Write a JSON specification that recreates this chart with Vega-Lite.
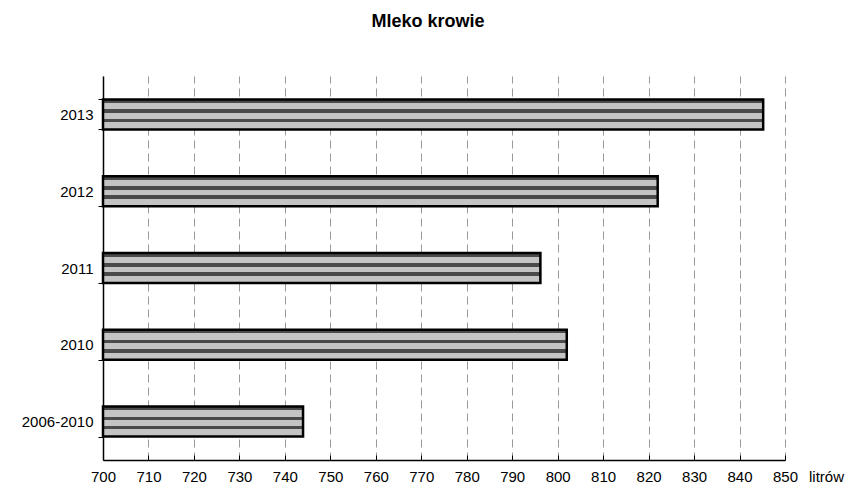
{
  "$schema": "https://vega.github.io/schema/vega-lite/v6.json",
  "width": 682,
  "height": 384,
  "autosize": {"type": "none"},
  "padding": {"left": 103, "top": 76, "right": 69, "bottom": 32},
  "background": "white",
  "title": {
    "text": "Mleko krowie",
    "font": "Liberation Sans",
    "fontSize": 18,
    "fontWeight": "bold",
    "anchor": "middle",
    "frame": "group",
    "dx": -16,
    "offset": 38,
    "color": "black"
  },
  "data": {
    "values": [
      {"okres": "2013", "litry": 845.2},
      {"okres": "2012", "litry": 822},
      {"okres": "2011", "litry": 796.2},
      {"okres": "2010", "litry": 802},
      {"okres": "2006-2010", "litry": 744}
    ]
  },
  "mark": {
    "type": "bar",
    "fill": {
      "gradient": "linear",
      "x1": 0, "y1": 0, "x2": 0, "y2": 1,
      "stops": [
        {"offset": 0.0, "color": "#4a4a4a"},
        {"offset": 0.12, "color": "#4a4a4a"},
        {"offset": 0.12, "color": "#c4c4c4"},
        {"offset": 0.33, "color": "#c4c4c4"},
        {"offset": 0.33, "color": "#4a4a4a"},
        {"offset": 0.45, "color": "#4a4a4a"},
        {"offset": 0.45, "color": "#c4c4c4"},
        {"offset": 0.64, "color": "#c4c4c4"},
        {"offset": 0.64, "color": "#4a4a4a"},
        {"offset": 0.76, "color": "#4a4a4a"},
        {"offset": 0.76, "color": "#c4c4c4"},
        {"offset": 1.0, "color": "#c4c4c4"}
      ]
    },
    "stroke": "black",
    "strokeWidth": 2.5
  },
  "encoding": {
    "y": {
      "field": "okres",
      "type": "nominal",
      "sort": null,
      "scale": {"paddingInner": 0.61, "paddingOuter": 0.305},
      "axis": {
        "title": null,
        "tickBand": "extent",
        "labelFont": "Liberation Sans",
        "labelFontSize": 15,
        "labelColor": "black",
        "labelPadding": 5,
        "tickSize": 5,
        "tickColor": "black",
        "domainColor": "black",
        "domainWidth": 1.5,
        "grid": false
      }
    },
    "x": {
      "field": "litry",
      "type": "quantitative",
      "scale": {"domain": [700, 850], "zero": false, "nice": false},
      "axis": {
        "values": [700, 710, 720, 730, 740, 750, 760, 770, 780, 790, 800, 810, 820, 830, 840, 850],
        "title": "litrów",
        "titleFont": "Liberation Sans",
        "titleFontSize": 15,
        "titleFontWeight": "normal",
        "titleColor": "black",
        "titleX": 723,
        "titleY": 21,
        "titleAlign": "center",
        "titleBaseline": "alphabetic",
        "labelFont": "Liberation Sans",
        "labelFontSize": 15,
        "labelColor": "black",
        "labelAlign": "center",
        "labelBaseline": "top",
        "labelPadding": 14,
        "tickSize": -5,
        "tickColor": "black",
        "domainColor": "black",
        "domainWidth": 1.5,
        "grid": true,
        "gridColor": "#999999",
        "gridDash": [8, 5],
        "gridWidth": 1
      }
    },
    "x2": {"datum": 700}
  },
  "config": {"view": {"stroke": null}}
}
